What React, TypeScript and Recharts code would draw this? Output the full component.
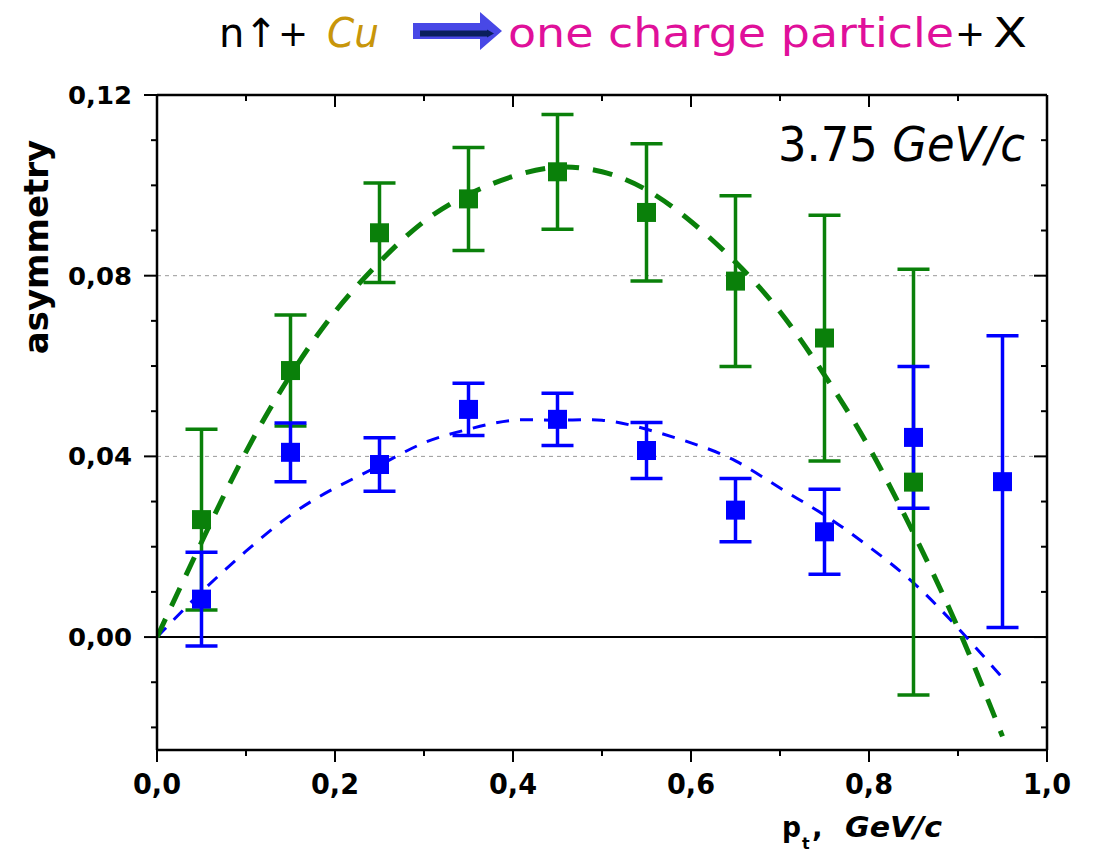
import React from "react";
import {
  ComposedChart,
  XAxis,
  YAxis,
  Scatter,
  Line,
  ErrorBar,
  ReferenceLine,
} from "recharts";

// measured points (p_t bins)
const ptBins = [0.05, 0.15, 0.25, 0.35, 0.45, 0.55, 0.65, 0.75, 0.85, 0.95];
const greenAsym = [0.026, 0.059, 0.0895, 0.097, 0.103, 0.094, 0.0788, 0.0662, 0.0343];
const greenErr = [0.02, 0.0123, 0.011, 0.0114, 0.0127, 0.0152, 0.0189, 0.0272, 0.0471];
const blueAsym = [0.0084, 0.0409, 0.0382, 0.0504, 0.0482, 0.0413, 0.0281, 0.0233, 0.0442, 0.0344];
const blueErr = [0.0104, 0.0065, 0.0059, 0.0058, 0.0058, 0.0062, 0.007, 0.0094, 0.0157, 0.0323];

// dashed fit curves
const fitPt = [0, 0.05, 0.1, 0.15, 0.2, 0.25, 0.3, 0.35, 0.4, 0.45, 0.5, 0.55, 0.6, 0.65, 0.7, 0.75, 0.8, 0.85, 0.9, 0.95];
const greenFitVals = [0, 0.021, 0.041, 0.058, 0.072, 0.083, 0.092, 0.098, 0.102, 0.104, 0.103, 0.099, 0.092, 0.083, 0.072, 0.058, 0.042, 0.023, 0.002, -0.022];
const blueFitVals = [0, 0.01, 0.019, 0.027, 0.033, 0.038, 0.043, 0.046, 0.048, 0.048, 0.048, 0.046, 0.043, 0.039, 0.033, 0.027, 0.02, 0.012, 0.002, -0.009];

const xTicks = [0, 0.1, 0.2, 0.3, 0.4, 0.5, 0.6, 0.7, 0.8, 0.9, 1.0];
const yTicks = [-0.02, -0.01, 0, 0.01, 0.02, 0.03, 0.04, 0.05, 0.06, 0.07, 0.08, 0.09, 0.1, 0.11, 0.12];

const greenPts = greenAsym.map((y, i) => ({ x: ptBins[i], y, err: greenErr[i] }));
const bluePts = blueAsym.map((y, i) => ({ x: ptBins[i], y, err: blueErr[i] }));
const greenFit = fitPt.map((x, i) => ({ x, y: greenFitVals[i] }));
const blueFit = fitPt.map((x, i) => ({ x, y: blueFitVals[i] }));

const GREEN = "#0a800a";
const BLUE = "#0000ff";
const FONT = "'DejaVu Sans', sans-serif";

const isMajorX = (v: number) => Math.abs(v / 0.2 - Math.round(v / 0.2)) < 1e-6;
const isMajorY = (v: number) => Math.abs(v / 0.04 - Math.round(v / 0.04)) < 1e-6;

function BottomTick({ x, y, payload }: any) {
  const v = payload.value;
  const major = isMajorX(v);
  return (
    <g>
      <line x1={x} x2={x} y1={y} y2={y + (major ? 12 : 6)} stroke="#000" strokeWidth={2} />
      {major && (
        <text
          x={x}
          y={y + 44}
          textAnchor="middle"
          fontSize={28}
          fontWeight="bold"
          fontFamily={FONT}
          textLength={48}
          lengthAdjust="spacingAndGlyphs"
          fill="#000"
        >
          {v.toFixed(1).replace(".", ",")}
        </text>
      )}
    </g>
  );
}

function TopTick({ x, y, payload }: any) {
  const major = isMajorX(payload.value);
  return <line x1={x} x2={x} y1={y} y2={y + (major ? 12 : 6)} stroke="#000" strokeWidth={2} />;
}

function LeftTick({ x, y, payload }: any) {
  const v = payload.value;
  const major = isMajorY(v);
  return (
    <g>
      <line x1={x - (major ? 13 : 6)} x2={x} y1={y} y2={y} stroke="#000" strokeWidth={2} />
      {major && (
        <text
          x={x - 25}
          y={y + 9}
          textAnchor="end"
          fontSize={25}
          fontWeight="bold"
          fontFamily={FONT}
          textLength={64}
          lengthAdjust="spacingAndGlyphs"
          fill="#000"
        >
          {v.toFixed(2).replace(".", ",")}
        </text>
      )}
    </g>
  );
}

function RightTick({ x, y, payload }: any) {
  const major = isMajorY(payload.value);
  return <line x1={x - (major ? 13 : 6)} x2={x} y1={y} y2={y} stroke="#000" strokeWidth={2} />;
}

const square = (color: string) => (props: any) => {
  const { cx, cy } = props;
  return <rect x={cx - 9.5} y={cy - 9.5} width={19} height={19} fill={color} />;
};

export default function App() {
  return (
    <div style={{ position: "absolute", left: 0, top: 0, width: 1096, height: 854, background: "#fff" }}>
      <ComposedChart
        width={1096}
        height={854}
        margin={{ top: 85, right: 39, bottom: 44, left: 0 }}
      >
        <XAxis
          type="number"
          dataKey="x"
          domain={[0, 1]}
          ticks={xTicks}
          interval={0}
          height={60}
          tickSize={0}
          tickMargin={0}
          tick={<BottomTick />}
          axisLine={{ stroke: "#000", strokeWidth: 2.5 }}
          allowDataOverflow
        />
        <XAxis
          xAxisId="top"
          orientation="top"
          type="number"
          dataKey="x"
          domain={[0, 1]}
          ticks={xTicks}
          interval={0}
          height={10}
          tickSize={0}
          tickMargin={0}
          tick={<TopTick />}
          axisLine={{ stroke: "#000", strokeWidth: 2.5 }}
          allowDataOverflow
        />
        <YAxis
          type="number"
          domain={[-0.025, 0.12]}
          ticks={yTicks}
          interval={0}
          width={157}
          tickSize={0}
          tickMargin={0}
          tick={<LeftTick />}
          axisLine={{ stroke: "#000", strokeWidth: 2.5 }}
          allowDataOverflow
        />
        <YAxis
          yAxisId="right"
          orientation="right"
          type="number"
          domain={[-0.025, 0.12]}
          ticks={yTicks}
          interval={0}
          width={10}
          tickSize={0}
          tickMargin={0}
          tick={<RightTick />}
          axisLine={{ stroke: "#000", strokeWidth: 2.5 }}
          allowDataOverflow
        />
        <ReferenceLine y={0.04} stroke="#999" strokeDasharray="4 4" strokeWidth={1} />
        <ReferenceLine y={0.08} stroke="#999" strokeDasharray="4 4" strokeWidth={1} />
        <ReferenceLine y={0} stroke="#000" strokeWidth={2} />

        <Line
          data={blueFit}
          dataKey="y"
          type="natural"
          stroke={BLUE}
          strokeWidth={3}
          strokeDasharray="13 11"
          dot={false}
          isAnimationActive={false}
        />
        <Line
          data={greenFit}
          dataKey="y"
          type="natural"
          stroke={GREEN}
          strokeWidth={5}
          strokeDasharray="20 14"
          dot={false}
          isAnimationActive={false}
        />
        <Scatter data={greenPts} dataKey="y" shape={square(GREEN)} isAnimationActive={false}>
          <ErrorBar dataKey="err" direction="y" width={16} stroke={GREEN} strokeWidth={3.5} />
        </Scatter>
        <Scatter data={bluePts} dataKey="y" shape={square(BLUE)} isAnimationActive={false}>
          <ErrorBar dataKey="err" direction="y" width={16} stroke={BLUE} strokeWidth={3.5} />
        </Scatter>
      </ComposedChart>

      <svg
        width={1096}
        height={854}
        style={{ position: "absolute", left: 0, top: 0, pointerEvents: "none" }}
      >
        {/* title */}
        <g fontFamily={FONT} fontSize={40}>
          <text x={219} y={47} fill="#000">
            n↑<tspan fontSize={36} dy={-1}>+</tspan>
          </text>
          <text x={327} y={47} fill="#c8960a" fontStyle="italic" textLength={52} lengthAdjust="spacingAndGlyphs">Cu</text>
          <text x={508} y={47} fill="#e0109a" textLength={446} lengthAdjust="spacingAndGlyphs">one charge particle</text>
          <text x={993} y={47} fill="#000" textLength={34} lengthAdjust="spacingAndGlyphs">X</text>
          <text x={970} y={46} fill="#000" fontSize={36} textAnchor="middle">+</text>
        </g>
        <polygon points="413,23 480,23 480,12 502,31 480,50 480,39 413,39" fill="#4848e6" />
        <line x1={420} y1={33.5} x2={488} y2={33.5} stroke="#0a1f5c" strokeWidth={6} />
        <polygon points="487,29.5 494,33.5 487,37.5" fill="#0a1f5c" />

        {/* energy label */}
        <text x={778} y={161} fontFamily={FONT} fontSize={48} fill="#000" textLength={247} lengthAdjust="spacingAndGlyphs">
          3.75 <tspan fontStyle="italic">GeV/c</tspan>
        </text>

        {/* y label */}
        <text
          transform="translate(48,247) rotate(-90)"
          textAnchor="middle"
          fontFamily={FONT}
          fontSize={34}
          fontWeight="bold"
          fill="#000"
        >
          asymmetry
        </text>

        {/* x label */}
        <g fontFamily={FONT} fontWeight="bold" fill="#000">
          <text x={782} y={837} fontSize={28} textLength={19} lengthAdjust="spacingAndGlyphs">p</text>
          <text x={802} y={849} fontSize={16}>t</text>
          <text x={812} y={837} fontSize={28}>,</text>
          <text x={845} y={837} fontSize={28} fontStyle="italic" textLength={97} lengthAdjust="spacingAndGlyphs">GeV/c</text>
        </g>
      </svg>
    </div>
  );
}
